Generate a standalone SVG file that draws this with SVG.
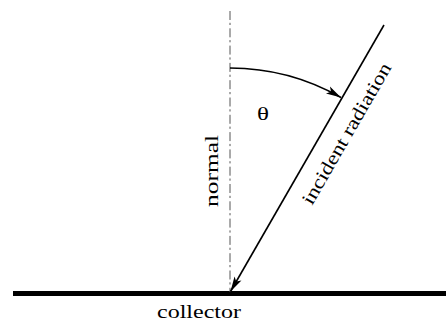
<svg xmlns="http://www.w3.org/2000/svg" width="446" height="321" viewBox="0 0 446 321">
<style>
.lbl{font-family:"Liberation Serif","Times New Roman",serif;font-size:19px;fill:#000}
.ln{stroke:#000;stroke-width:1.6;fill:none}
</style>
<defs>
<marker id="ah" markerUnits="userSpaceOnUse" markerWidth="20" markerHeight="12" refX="0" refY="0" viewBox="-16 -6 18 12" orient="auto" overflow="visible">
<path d="M0,0 L-15,-4 L-11.5,0 L-15,4 Z" fill="#000"/>
</marker>
</defs>
<rect width="446" height="321" fill="#fff"/>
<g id="collector">
<line x1="13" y1="293.5" x2="446" y2="293.5" stroke="#000" stroke-width="5"/>
<text class="lbl" x="157" y="318" textLength="84" lengthAdjust="spacingAndGlyphs">collector</text>
</g>
<g id="normal">
<line x1="230" y1="11" x2="230" y2="292" stroke="#555" stroke-width="1" stroke-dasharray="9 2.8 2.2 3.3"/>
<text class="lbl" transform="translate(217.5,207) rotate(-90)" textLength="72" lengthAdjust="spacingAndGlyphs">normal</text>
</g>
<g id="incident">
<text class="lbl" transform="translate(312,206) rotate(-60)" textLength="160" lengthAdjust="spacingAndGlyphs">incident radiation</text>
</g>
<g id="theta">
<text class="lbl" x="257" y="120" font-size="18" textLength="12" lengthAdjust="spacingAndGlyphs">θ</text>
</g>
<g id="connectors">
<line class="ln" x1="384" y1="25" x2="230.5" y2="291.5" marker-end="url(#ah)"/>
<path class="ln" d="M230,68 A225,225 0 0 1 341,97.5" marker-end="url(#ah)"/>
</g>
</svg>
